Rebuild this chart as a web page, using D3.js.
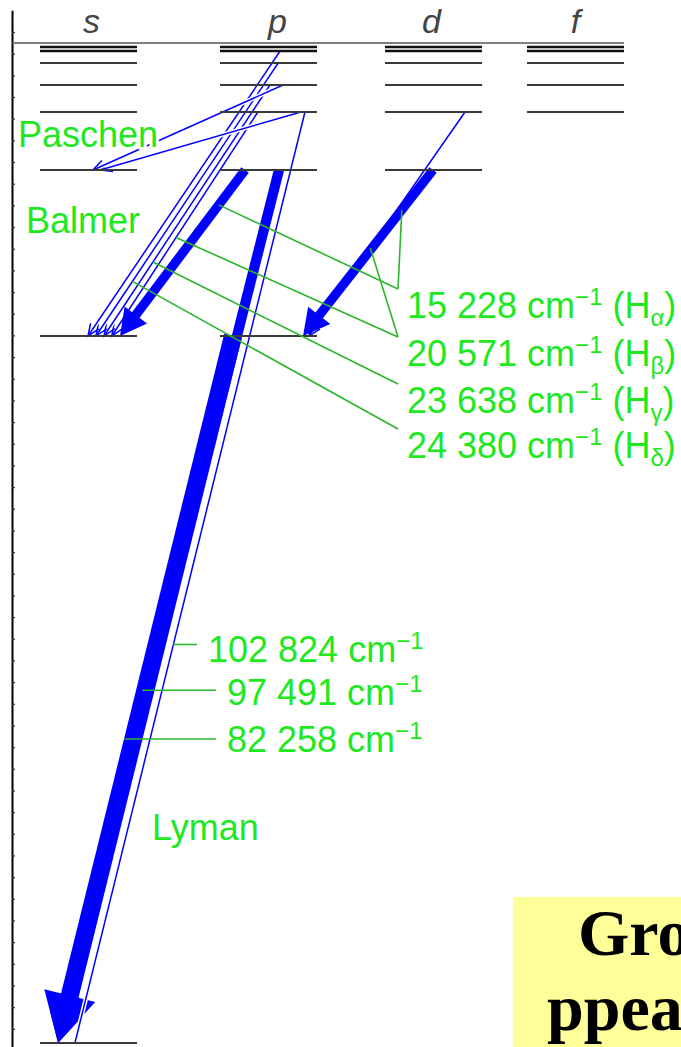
<!DOCTYPE html>
<html>
<head>
<meta charset="utf-8">
<script src="https://cdn.jsdelivr.net/npm/d3@7"></script>
<style>
html, body { margin: 0; padding: 0; background: #fff; overflow: hidden; }
svg { display: block; font-family: "Liberation Sans", Arial, sans-serif; }
</style>
</head>
<body>
<svg id="chart" width="681" height="1047"></svg>
<script>
//hydrogen term values in cm-1 above the ground state, n = 1..8
var levelN = [1, 2, 3, 4, 5, 6, 7, 8];
var termValues = [0, 82259, 97492, 102824, 105292, 106632, 107440, 107965];
var ionLimit = 109678;

//angular momentum columns and the lowest n in each
var shells = ["s", "p", "d", "f"];
var shellMinN = [1, 2, 3, 4];

//transitions: upper state, lower state, series, relative strength
var transUpper = ["2p", "3p", "4p", "3p", "3d", "4p", "5p", "6p", "7p", "4d", "4p", "5p"];
var transLower = ["1s", "1s", "1s", "2s", "2p", "2s", "2s", "2s", "2s", "2p", "3s", "3s"];
var transSeries = ["Lyman", "Lyman", "Lyman", "Balmer", "Balmer", "Balmer", "Balmer", "Balmer", "Balmer", "Balmer", "Paschen", "Paschen"];
var transStrength = [1.0, 0.55, 0.05, 0.5, 0.5, 0.05, 0.05, 0.05, 0.05, 0.05, 0.05, 0.05];

//line labels
var balmerWavenumbers = ["15 228", "20 571", "23 638", "24 380"];
var balmerGreek = ["α", "β", "γ", "δ"];
var lymanWavenumbers = ["102 824", "97 491", "82 258"];
var seriesNames = ["Paschen", "Balmer", "Lyman"];
var bannerLines = ["Gro", "ppea"];

var svg = d3.select("#chart");
var blue = "#0000ff";
var greenText = "#1ee81e";
var greenLine = "#2bb52b";

//vertical: term value -> y (diagram is not to scale, so piecewise)
var y = d3.scaleLinear()
    .domain(termValues.concat([ionLimit]))
    .range([1043, 336, 170, 112, 85, 63, 51, 47, 43]);

//horizontal: column -> left edge of its level lines
var colX = d3.scaleOrdinal().domain(shells).range([40, 220, 385, 527]);
var levelW = 97;

var lineWidth = d3.scaleLinear().domain([0.05, 1]).range([1.5, 18]);

//where each arrow leaves and lands, as a fraction along the level line
var startFrac = [0.134, 0.608, 0.876, 0.258, 0.495, 0.39, 0.515, 0.60, 0.62, 0.825, 0.835, 0.65];
var endFrac = [0.186, 0.186, 0.36, 0.825, 0.856, 0.74, 0.66, 0.577, 0.495, 0.917, 0.62, 0.546];

function stateY(st) { return y(termValues[+st.slice(0, -1) - 1]); }
function stateX(st, f) { return colX(st.slice(-1)) + f * levelW; }

var trans = transUpper.map(function (u, i) {
    return {
        i: i,
        series: transSeries[i],
        x1: stateX(u, startFrac[i]), y1: stateY(u),
        x2: stateX(transLower[i], endFrac[i]), y2: stateY(transLower[i]),
        w: lineWidth(transStrength[i]),
        strong: transStrength[i] > 0.2
    };
});

function along(t, k) {
    return [t.x1 + (t.x2 - t.x1) * k, t.y1 + (t.y2 - t.y1) * k];
}

function unit(t) {
    var dx = t.x2 - t.x1, dy = t.y2 - t.y1, len = Math.sqrt(dx * dx + dy * dy);
    return [dx / len, dy / len];
}

//axis with small ticks
var tickScale = d3.scaleLinear().domain([-1, 47]).range([32 - 21.67, 32 + 47 * 21.67]);
var axis = svg.append("g")
    .attr("transform", "translate(12,0)")
    .call(d3.axisRight(tickScale).tickValues(d3.range(0, 48)).tickSize(3).tickSizeOuter(0).tickFormat(""));
axis.select(".domain").attr("stroke", "#000").attr("stroke-width", 2);
axis.selectAll(".tick line").attr("stroke", "#333").attr("stroke-width", 1.2);

//thick arrows
function drawStrong(g, t) {
    var u = unit(t);
    var L = 2.6 * t.w + 2, hw = 1.4 * t.w + 1;
    var bx = t.x2 - L * u[0], by = t.y2 - L * u[1];
    var nx = -u[1], ny = u[0];
    g.append("line")
        .attr("x1", t.x1).attr("y1", t.y1)
        .attr("x2", bx + 2 * u[0]).attr("y2", by + 2 * u[1])
        .attr("stroke", blue).attr("stroke-width", t.w);
    g.append("path")
        .attr("d", d3.line()([[t.x2, t.y2], [bx + hw * nx, by + hw * ny], [bx - hw * nx, by - hw * ny]]) + "Z")
        .attr("fill", blue);
}

//thin arrows, white edged, open heads
function drawThin(g, t) {
    g.append("line")
        .attr("x1", t.x1).attr("y1", t.y1).attr("x2", t.x2).attr("y2", t.y2)
        .attr("stroke", "#fff").attr("stroke-width", t.w + 3);
    g.append("line")
        .attr("x1", t.x1).attr("y1", t.y1).attr("x2", t.x2).attr("y2", t.y2)
        .attr("stroke", blue).attr("stroke-width", t.w);
    if (t.series === "Lyman") return;
    var u = unit(t), L = 12, hw = 5, nx = -u[1], ny = u[0];
    var bx = t.x2 - L * u[0], by = t.y2 - L * u[1];
    g.append("path")
        .attr("d", d3.line()([[bx + hw * nx, by + hw * ny], [t.x2, t.y2], [bx - hw * nx, by - hw * ny]]))
        .attr("fill", "none").attr("stroke", blue).attr("stroke-width", 1.5);
}

var gBack = svg.append("g"), gThin = svg.append("g"), gFront = svg.append("g");
trans.forEach(function (t) {
    if (!t.strong) drawThin(gThin, t);
    else if (t.series === "Lyman") drawStrong(gBack, t);
    else drawStrong(gFront, t);
});

//energy levels
svg.append("line")
    .attr("x1", 12).attr("x2", colX("f") + levelW)
    .attr("y1", y(ionLimit)).attr("y2", y(ionLimit))
    .attr("stroke", "#555").attr("stroke-width", 1.5);

var letterNudge = [3, 9, -2, 0];
shells.forEach(function (s, k) {
    var ns = levelN.filter(function (n) { return n >= shellMinN[k]; });
    svg.append("g").selectAll("line").data(ns).join("line")
        .attr("x1", colX(s)).attr("x2", colX(s) + levelW)
        .attr("y1", function (n) { return y(termValues[n - 1]); })
        .attr("y2", function (n) { return y(termValues[n - 1]); })
        .attr("stroke", function (n) { return n >= 7 ? "#111" : "#3a3a3a"; })
        .attr("stroke-width", function (n) { return n >= 7 ? 2.6 : 2; });
    svg.append("text")
        .attr("x", colX(s) + levelW / 2 + letterNudge[k]).attr("y", 33)
        .attr("text-anchor", "middle")
        .attr("font-size", 34).attr("font-style", "italic")
        .attr("fill", "#444")
        .text(s);
});

//green leaders for Balmer labels
var gGreen = svg.append("g")
    .attr("stroke", greenLine).attr("stroke-width", 1.6).attr("fill", "none");
var balmerX = 407;
var balmerBase = [318, 366, 413, 458];
var balmerFrom = [along(trans[3], 0.21), along(trans[5], 0.56), along(trans[6], 0.705), along(trans[7], 0.80)];
var balmerFromD = [along(trans[4], 0.24), along(trans[9], 0.607)];

balmerBase.forEach(function (b, k) {
    var end = [balmerX - 9, b - 29];
    gGreen.append("path").attr("d", d3.line()([balmerFrom[k], end]));
    if (balmerFromD[k]) gGreen.append("path").attr("d", d3.line()([balmerFromD[k], end]));
});

//green leaders for Lyman labels
var lymanX = [208, 227, 227];
var lymanBase = [662, 705, 752];
var lymanFrom = [[trans[2], 0.572], [trans[1], 0.596], [trans[0], 0.57]];
lymanFrom.forEach(function (f, k) {
    var p = along(f[0], f[1]);
    gGreen.append("line")
        .attr("x1", p[0] - f[0].w / 2).attr("x2", lymanX[k] - 11)
        .attr("y1", p[1]).attr("y2", p[1]);
});

//labels
function greenLabel(x, yb) {
    return svg.append("text")
        .attr("x", x).attr("y", yb)
        .attr("font-size", 36)
        .attr("fill", greenText)
        .attr("stroke", "#fff").attr("stroke-width", 6)
        .attr("paint-order", "stroke")
        .attr("stroke-linejoin", "round");
}

balmerWavenumbers.forEach(function (v, k) {
    var t = greenLabel(balmerX, balmerBase[k]);
    t.append("tspan").text(v + " cm");
    t.append("tspan").attr("font-size", 24).attr("dy", -13).text("\u22121");
    t.append("tspan").attr("dy", 13).text(" (H");
    t.append("tspan").attr("font-size", 24).attr("dy", 8).text(balmerGreek[k]);
    t.append("tspan").attr("dy", -8).text(")");
});

lymanWavenumbers.forEach(function (v, k) {
    var t = greenLabel(lymanX[k], lymanBase[k]);
    t.append("tspan").text(v + " cm");
    t.append("tspan").attr("font-size", 24).attr("dy", -13).text("\u22121");
});

var seriesPos = [[18, 147], [26, 233], [152, 840]];
seriesNames.forEach(function (s, k) {
    greenLabel(seriesPos[k][0], seriesPos[k][1]).text(s);
});

//slide banner cut by the image edge
svg.append("rect")
    .attr("x", 513).attr("y", 897).attr("width", 168).attr("height", 150)
    .attr("fill", "#ffff99");
var bannerPos = [[578, 955], [547, 1030]];
bannerLines.forEach(function (s, k) {
    svg.append("text")
        .attr("x", bannerPos[k][0]).attr("y", bannerPos[k][1])
        .style("font-family", "'Liberation Serif', 'Times New Roman', serif")
        .attr("font-weight", "bold").attr("font-size", 66)
        .attr("fill", "#000")
        .text(s);
});
</script>
</body>
</html>
